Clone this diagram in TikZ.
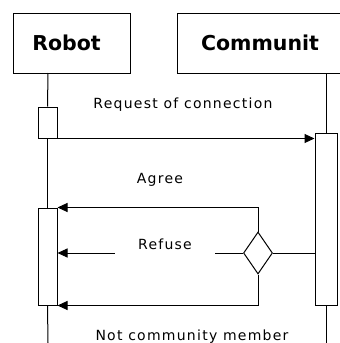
\documentclass[tikz,border=0pt]{standalone}
\usepackage{fontspec}
\setmainfont{DejaVu Sans}
\newfontfamily\msgfont[LetterSpace=9]{DejaVu Sans}
\usetikzlibrary{arrows.meta,shapes.geometric}
\tikzset{
  actor/.style={draw, line width=1pt, minimum height=60pt, inner sep=0pt,
    font=\fontsize{20.5}{24}\selectfont\bfseries},
  activation/.style={draw, line width=1pt, fill=white, inner sep=0pt},
  lifeline/.style={line width=1pt},
  msg/.style={line width=1pt, -{Triangle[length=10pt,width=9pt]}},
  lbl/.style={font=\msgfont\fontsize{14}{16}\selectfont, inner sep=2pt},
  choice/.style={draw, diamond, line width=1pt, inner sep=0pt, aspect=0.7,
    minimum width=29pt, minimum height=42pt}
}
\begin{document}
\begin{tikzpicture}[x=1pt,y=-1pt]
\useasboundingbox (0,0) rectangle (340,343);
\clip (0,0) rectangle (340,343);
\fill[white] (0,0) rectangle (340,343);
% participants
\node[actor, minimum width=117pt] (robot) at (71.5,43) {\hspace*{-10pt}Robot};
\node[actor, minimum width=166pt] (comm) at (260,43) {Communit};
% activation bars
\node[activation, minimum width=19pt, minimum height=31pt] (act1) at (47.5,122.5) {};
\node[activation, minimum width=19pt, minimum height=97pt] (act2) at (47.5,256.5) {};
\node[activation, minimum width=22pt, minimum height=172pt] (cact) at (326,219) {};
% lifelines
\coordinate (rtop) at (48,73);
\coordinate (rbot) at (48,343);
\coordinate (ctop) at (326,73);
\coordinate (cbot) at (326,343);
\draw[lifeline] (rtop) -- (act1.north);
\draw[lifeline] (act1.south) -- (act2.north);
\draw[lifeline] (act2.south) -- (rbot);
\draw[lifeline] (ctop) -- (cact.north);
\draw[lifeline] (cact.south) -- (cbot);
% decision
\node[choice] (dia) at (258,253) {};
% messages
\draw[msg] (act1.south east) -- (cact.west |- act1.south east);
\draw[msg] (dia.north) |- (act2.north east);
\draw[msg] (dia.south) |- (act2.south east);
\draw[msg] (dia.west) -- (act2.east |- dia.west);
\draw[lifeline] (dia.east) -- (cact.west |- dia.east);
% labels
\node[lbl] (lreq) at (183,105) {Request of connection};
\node[lbl] (lagree) at (160,180) {Agree};
\node[lbl, fill=white, minimum width=100pt, minimum height=26pt] (lref) at (165,244) {Refuse};
\node[lbl] (lnot) at (192,337) {Not community member};
\end{tikzpicture}
\end{document}
